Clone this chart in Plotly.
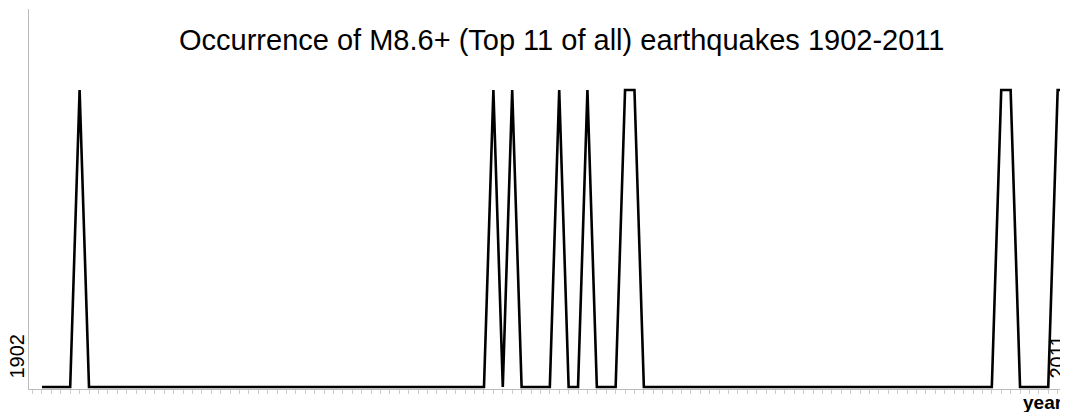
import plotly.graph_objects as go

# Data
years = list(range(1902, 2012))
event_years = [1906, 1950, 1952, 1957, 1960, 1964, 1965, 2004, 2005, 2010, 2011]
counts = [1 if y in event_years else 0 for y in years]
title_text = "Occurrence of M8.6+ (Top 11 of all) earthquakes 1902-2011"
first_label = "1902"
last_label = "2011"
x_title = "year"

# page has an 8px body margin; figure placed at (8, 8)
OFF = 8
W, H = 1068 - OFF, 412 - OFF
ML, MR, MT, MB = 29 - OFF, 0, 9 - OFF, 23
pw = W - ML - MR
ph = H - MT - MB

def px_x(p):
    return (p - OFF - ML) / pw

def px_y(p):
    return (H - MB - (p - OFF)) / ph

fig = go.Figure()
fig.add_trace(go.Scatter(
    x=years, y=counts, mode="lines",
    line=dict(color="black", width=2.6),
    hoverinfo="x+y", showlegend=False, cliponaxis=False,
))

font = "Liberation Sans, Arial, sans-serif"
fig.update_layout(
    width=W, height=H,
    margin=dict(l=ML, r=MR, t=MT, b=MB, pad=0),
    paper_bgcolor="white", plot_bgcolor="white",
    xaxis=dict(range=[1900.62, 2011.1], showgrid=False, zeroline=False,
               showline=True, linecolor="#bbbbbb", linewidth=1,
               ticks="outside", tick0=1902, dtick=1, ticklen=4,
               tickcolor="#cccccc", tickwidth=1, showticklabels=False),
    yaxis=dict(range=[-0.0067, 1.2727], showgrid=False, zeroline=False,
               showline=True, linecolor="#bbbbbb", linewidth=1,
               ticks="", showticklabels=False),
    font=dict(family=font, color="black"),
    annotations=[
        dict(text=title_text, xref="paper", yref="paper",
             x=px_x(561), y=px_y(40), xanchor="center", yanchor="middle",
             showarrow=False, font=dict(size=29, family=font, color="black")),
        dict(text=first_label, xref="paper", yref="paper",
             x=px_x(16), y=px_y(381), xanchor="center", yanchor="bottom",
             textangle=-90, showarrow=False,
             font=dict(size=20, family=font, color="black")),
        dict(text=last_label, xref="paper", yref="paper",
             x=px_x(1056), y=px_y(381), xanchor="center", yanchor="bottom",
             textangle=-90, showarrow=False,
             font=dict(size=20, family=font, color="black")),
        dict(text="<b>" + x_title + "</b>", xref="paper", yref="paper",
             x=px_x(1021), y=px_y(390), xanchor="left", yanchor="top",
             showarrow=False,
             font=dict(size=19, family=font, color="black")),
    ],
)

fig.write_html("out.html")
